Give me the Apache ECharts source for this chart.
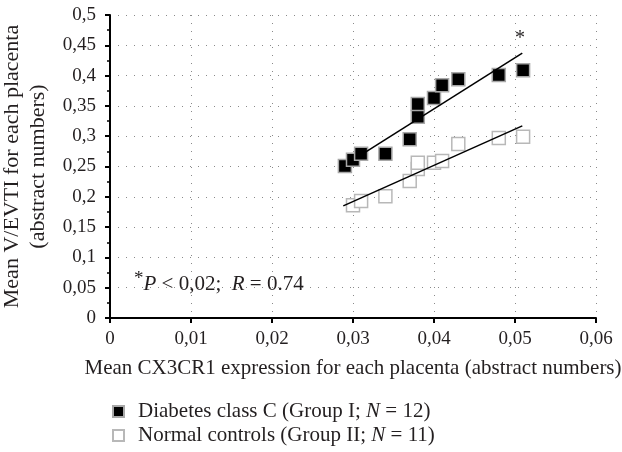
<!DOCTYPE html>
<html><head><meta charset="utf-8">
<script src="https://cdn.jsdelivr.net/npm/echarts@6/dist/echarts.min.js"></script>
<style>html,body{margin:0;padding:0;background:#fff}#c{width:622px;height:452px}</style>
</head><body><div id="c"></div>
<script>
// Data
const diabetesX = [0.029,0.030,0.031,0.034,0.037,0.038,0.038,0.040,0.041,0.043,0.048,0.051];
const diabetesY = [0.251,0.261,0.271,0.271,0.295,0.332,0.353,0.363,0.384,0.394,0.401,0.409];
const controlX = [0.030,0.031,0.034,0.037,0.038,0.038,0.040,0.041,0.043,0.048,0.051];
const controlY = [0.186,0.193,0.201,0.226,0.246,0.256,0.256,0.259,0.287,0.297,0.299];
const diabetesFitX = [0.031,0.0509];
const diabetesFitY = [0.269,0.437];
const controlFitX = [0.0288,0.0509];
const controlFitY = [0.185,0.317];
const xTicks = {min:0,max:0.06,interval:0.01};
const yTicks = {min:0,max:0.5,interval:0.05};
const seriesNames = ['Diabetes class C (Group I; N = 12)','Normal controls (Group II; N = 11)'];

const zip = (a,b)=>a.map((v,i)=>[v,b[i]]);
const fmt = v => String(+v.toFixed(3)).replace('.',',');
const FONT = 'Liberation Serif';
const TXT = '#231f20';
const chart = echarts.init(document.getElementById('c'));
chart.setOption({
  animation:false,
  textStyle:{fontFamily:FONT},
  grid:{left:110,right:26,top:15,bottom:134,containLabel:false,outerBoundsMode:'none'},
  xAxis:{type:'value',min:xTicks.min,max:xTicks.max,interval:xTicks.interval,
    name:'Mean CX3CR1 expression for each placenta (abstract numbers)',
    nameLocation:'middle',nameGap:40,
    nameTextStyle:{fontFamily:FONT,fontSize:21,color:TXT},
    axisLine:{lineStyle:{color:'#000',width:2}},
    axisTick:{show:true,inside:false,length:5,lineStyle:{color:'#000',width:2}},
    axisLabel:{fontFamily:FONT,fontSize:19,color:TXT,margin:12,formatter:fmt},
    splitLine:{show:true,lineStyle:{color:'#8a8a8a',type:[1,7],width:1}}
  },
  yAxis:{type:'value',min:yTicks.min,max:yTicks.max,interval:yTicks.interval,
    name:'Mean V/EVTI for each placenta\n(abstract numbers)',
    nameLocation:'middle',nameGap:59,nameRotate:90,
    nameTextStyle:{fontFamily:FONT,fontSize:22,color:TXT,lineHeight:26},
    axisLine:{show:true,lineStyle:{color:'#000',width:2}},
    axisTick:{show:true,length:5,lineStyle:{color:'#000',width:2}},
    minorTick:{show:true,splitNumber:2,length:3,lineStyle:{color:'#000',width:1.5}},
    axisLabel:{fontFamily:FONT,fontSize:19,color:TXT,margin:14,formatter:fmt},
    splitLine:{show:true,lineStyle:{color:'#8a8a8a',type:[1,7],width:1}}
  },
  legend:{orient:'vertical',left:112,top:401,itemGap:3,itemWidth:11,itemHeight:11,
    icon:'rect',padding:0,
    data:[seriesNames[0],seriesNames[1]],
    formatter:n=>n.replace('N =','{i|N} ='),
    textStyle:{fontFamily:FONT,fontSize:21,color:TXT,padding:[0,0,0,9],
      rich:{i:{fontFamily:FONT,fontSize:21,fontStyle:'italic',color:TXT}}}
  },
  graphic:[
    {type:'text',left:134,top:270,style:{
      text:'{s|*}{i|P} < 0,02;  {i|R} = 0.74',
      fontFamily:FONT,fontSize:21,fill:TXT,
      rich:{s:{fontSize:19,verticalAlign:'top',padding:[0,0,10,0],fontFamily:FONT,fill:TXT},
            i:{fontStyle:'italic',fontSize:21,fontFamily:FONT,fill:TXT}}}},
    {type:'text',left:515,top:29,style:{text:'*',fontFamily:FONT,fontSize:20,fill:TXT}}
  ],
  series:[
    {name:seriesNames[1],type:'scatter',symbol:'rect',symbolSize:13,z:3,
     itemStyle:{color:'#fff',borderColor:'#b8b8b8',borderWidth:1.5,opacity:1},
     data:zip(controlX,controlY)},
    {name:seriesNames[0],type:'scatter',symbol:'rect',symbolSize:13,z:4,
     itemStyle:{color:'#000',borderColor:'#a8a8a8',borderWidth:1.5,opacity:1},
     data:zip(diabetesX,diabetesY)},
    {type:'line',symbol:'none',z:5,silent:true,lineStyle:{color:'#000',width:1.5},
     data:zip(diabetesFitX,diabetesFitY)},
    {type:'line',symbol:'none',z:5,silent:true,lineStyle:{color:'#000',width:1.5},
     data:zip(controlFitX,controlFitY)}
  ]
});
</script></body></html>
